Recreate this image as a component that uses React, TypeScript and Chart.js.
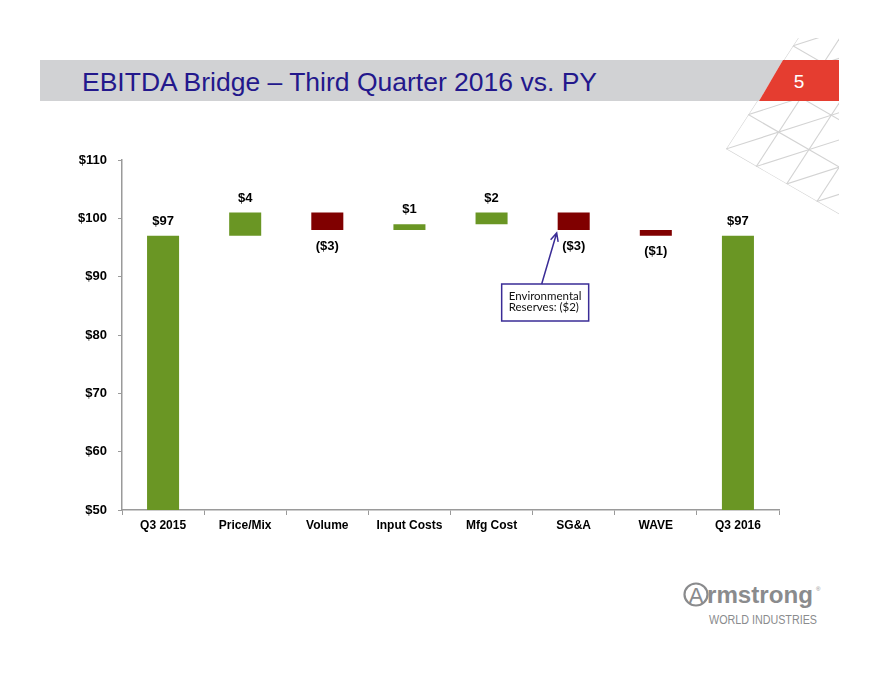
import React, { useEffect, useRef } from 'react';
import { Chart, registerables } from 'chart.js';

Chart.register(...registerables);

const categories = ['Q3 2015', 'Price/Mix', 'Volume', 'Input Costs', 'Mfg Cost', 'SG&A', 'WAVE', 'Q3 2016'];
const changes = [97, 4, -3, 1, 2, -3, -1, 97];
const isTotal = [true, false, false, false, false, false, false, true];
const valueLabels = ['$97', '$4', '($3)', '$1', '$2', '($3)', '($1)', '$97'];
const yMin = 50;
const yMax = 110;
const yStep = 10;
const annotationLines = ['Environmental', 'Reserves: ($2)'];
const annotationIndex = 5;
const titleText = 'EBITDA Bridge \u2013 Third Quarter 2016 vs. PY';
const pageNumber = '5';

const GREEN = '#6A9624';
const RED = '#800000';
const FONT = '"Liberation Sans", Arial, Helvetica, sans-serif';

function buildRanges(): [number, number][] {
  const out: [number, number][] = [];
  let run = 0;
  changes.forEach((c, i) => {
    if (isTotal[i]) {
      out.push([yMin, c]);
      run = c;
    } else {
      out.push([run, run + c]);
      run += c;
    }
  });
  return out;
}

const labelPlugin = {
  id: 'wfLabels',
  afterDatasetsDraw(chart: any) {
    const ctx = chart.ctx;
    const meta = chart.getDatasetMeta(0);
    ctx.save();
    ctx.font = 'bold 13px ' + FONT;
    ctx.fillStyle = '#000';
    ctx.textAlign = 'center';
    ctx.textBaseline = 'middle';
    meta.data.forEach((bar: any, i: number) => {
      const top = Math.min(bar.y, bar.base);
      const bottom = Math.max(bar.y, bar.base);
      if (changes[i] >= 0) ctx.fillText(valueLabels[i], bar.x, top - 14.5);
      else ctx.fillText(valueLabels[i], bar.x, bottom + 16);
    });

    // annotation callout
    const b = meta.data[annotationIndex];
    const left = b.x - b.width / 2;
    const bottom = Math.max(b.y, b.base);
    const boxX = left - 56;
    const boxY = bottom + 54;
    const boxW = 87;
    const boxH = 37;
    ctx.strokeStyle = '#3A2C96';
    ctx.lineWidth = 1.5;
    ctx.fillStyle = '#fff';
    ctx.fillRect(boxX, boxY, boxW, boxH);
    ctx.strokeRect(boxX, boxY, boxW, boxH);
    ctx.fillStyle = '#111';
    ctx.font = '11.5px Lato, ' + FONT;
    ctx.textAlign = 'left';
    ctx.textBaseline = 'middle';
    ctx.fillText(annotationLines[0], boxX + 7, boxY + 12);
    ctx.fillText(annotationLines[1], boxX + 7, boxY + 23.5);

    const sx = left - 16;
    const sy = boxY;
    const tx = left - 1;
    const ty = bottom + 3;
    ctx.beginPath();
    ctx.moveTo(sx, sy);
    ctx.lineTo(tx, ty);
    const ang = Math.atan2(ty - sy, tx - sx);
    const hl = 9;
    ctx.moveTo(tx - hl * Math.cos(ang - 0.45), ty - hl * Math.sin(ang - 0.45));
    ctx.lineTo(tx, ty);
    ctx.lineTo(tx - hl * Math.cos(ang + 0.45), ty - hl * Math.sin(ang + 0.45));
    ctx.stroke();
    ctx.restore();
  },
};

function Lattice() {
  const O = [726, 149];
  const su = 35;
  const sv = 41;
  const au = (30 * Math.PI) / 180;
  const av = (-57 * Math.PI) / 180;
  const u = [Math.cos(au), Math.sin(au)];
  const v = [Math.cos(av), Math.sin(av)];
  const dd = [u[0] * su + v[0] * sv, u[1] * su + v[1] * sv];
  const dl = Math.hypot(dd[0], dd[1]);
  const d = [dd[0] / dl, dd[1] / dl];
  const lines: number[][] = [];
  const L = 400;
  for (let j = 0; j <= 6; j++) {
    const p = [O[0] + j * sv * v[0], O[1] + j * sv * v[1]];
    lines.push([p[0] - L * u[0], p[1] - L * u[1], p[0] + L * u[0], p[1] + L * u[1]]);
  }
  for (let i = 0; i <= 6; i++) {
    const p = [O[0] + i * su * u[0], O[1] + i * su * u[1]];
    lines.push([p[0] - L * v[0], p[1] - L * v[1], p[0] + L * v[0], p[1] + L * v[1]]);
  }
  for (let k = -6; k <= 6; k++) {
    const p = [O[0] + k * su * u[0], O[1] + k * su * u[1]];
    lines.push([p[0] - L * d[0], p[1] - L * d[1], p[0] + L * d[0], p[1] + L * d[1]]);
  }
  const topX = O[0] + (O[1] - 38) / Math.tan(-av);
  const botY = O[1] + (839 - O[0]) * Math.tan(au);
  return (
    <g>
      <defs>
        <clipPath id="latclip">
          <polygon points={`${O[0]},${O[1]} ${topX},38 839,38 839,${botY}`} />
        </clipPath>
      </defs>
      <g clipPath="url(#latclip)" stroke="#D3D3D3" strokeWidth={1.1}>
        {lines.map((l, i) => (
          <line key={i} x1={l[0]} y1={l[1]} x2={l[2]} y2={l[3]} />
        ))}
      </g>
    </g>
  );
}

export default function App() {
  const canvasRef = useRef<HTMLCanvasElement | null>(null);

  useEffect(() => {
    if (!canvasRef.current) return;
    const ranges = buildRanges();
    const colors = changes.map((c) => (c >= 0 ? GREEN : RED));
    const chart = new Chart(canvasRef.current, {
      type: 'bar',
      data: {
        labels: categories,
        datasets: [
          {
            data: ranges as any,
            backgroundColor: colors,
            borderWidth: 0,
            barPercentage: 0.39,
            categoryPercentage: 1,
          },
        ],
      },
      options: {
        animation: false,
        responsive: false,
        maintainAspectRatio: false,
        layout: { padding: { left: 52, right: 101, top: 160, bottom: 140 } },
        plugins: { legend: { display: false }, tooltip: { enabled: false } },
        scales: {
          x: {
            afterFit: (sc: any) => {
              sc.height = 30;
            },
            grid: { display: true, drawOnChartArea: false, drawTicks: true, tickLength: 5, color: '#9A9A9A', offset: true },
            border: { display: true, color: '#9A9A9A', width: 1.5 },
            ticks: { color: '#000', font: { family: FONT, size: 12, weight: 'bold' }, padding: 3, maxRotation: 0 },
          },
          y: {
            min: yMin,
            max: yMax,
            afterFit: (sc: any) => {
              sc.width = 70;
            },
            grid: { display: true, drawOnChartArea: false, drawTicks: true, tickLength: 4, color: '#9A9A9A' },
            border: { display: true, color: '#9A9A9A', width: 1.5 },
            ticks: {
              stepSize: yStep,
              color: '#000',
              font: { family: FONT, size: 13, weight: 'bold' },
              padding: 11,
              callback: (val: any) => '$' + val,
            },
          },
        },
      },
      plugins: [labelPlugin],
    });
    return () => chart.destroy();
  }, []);

  return (
    <div style={{ position: 'absolute', left: 0, top: 0, width: 880, height: 680, background: '#fff', overflow: 'hidden' }}>
      <svg width={880} height={680} style={{ position: 'absolute', left: 0, top: 0 }}>
        <Lattice />
        <polygon points="40,60 783,60 759,101 40,101" fill="#D1D2D4" />
        <polygon points="783,60 839,60 839,101 759,101" fill="#E53D30" />
        <text x={82} y={90.5} fill="#23188C" fontFamily={FONT} fontSize={26.5} textLength={515} lengthAdjust="spacingAndGlyphs">
          {titleText}
        </text>
        <text x={799} y={87.5} fill="#fff" fontFamily={FONT} fontSize={19} textAnchor="middle">
          {pageNumber}
        </text>
        <g fill="#8A8B8D" fontFamily={FONT}>
          <ellipse cx={696} cy={594.5} rx={11.5} ry={11} fill="none" stroke="#8A8B8D" strokeWidth={2.2} />
          <text x={696} y={603} fontSize={22} textAnchor="middle">A</text>
          <text x={707} y={603} fontSize={24} fontWeight="bold" textLength={106} lengthAdjust="spacingAndGlyphs">
            rmstrong
          </text>
          <text x={816} y={591} fontSize={6}>®</text>
          <text x={709} y={624} fontSize={12.5} textLength={108} lengthAdjust="spacingAndGlyphs">
            WORLD INDUSTRIES
          </text>
        </g>
      </svg>
      <canvas ref={canvasRef} width={880} height={680} style={{ position: 'absolute', left: 0, top: 0, width: 880, height: 680 }} />
    </div>
  );
}
